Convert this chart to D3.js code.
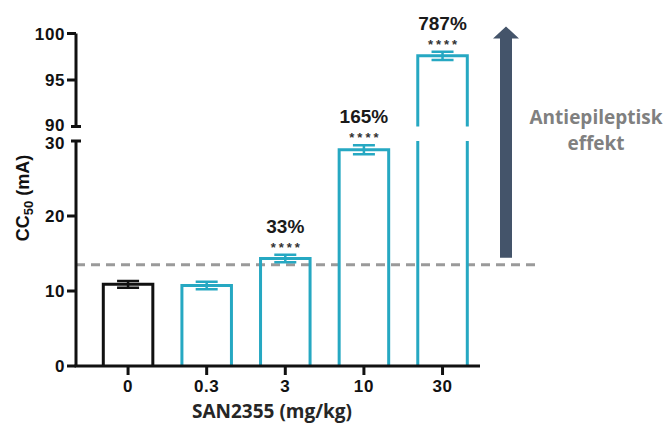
<!DOCTYPE html>
<html lang="en">
<head>
  <meta charset="UTF-8" />
  <title>CC50 SAN2355</title>
  <script src="https://d3js.org/d3.v7.min.js"></script>
  <style>
    body { margin: 0; background: white; }
    svg { display: block; }
    .tick-label { font-family: "Liberation Sans", Arial, sans-serif; font-weight: bold; font-size: 17px; letter-spacing: 0.6px; fill: #111; }
  </style>
</head>
<body>
  <svg width="664" height="424"></svg>

  <script>
    // data
    const doses = ["0", "0.3", "3", "10", "30"];
    const means = [10.9, 10.75, 14.35, 28.85, 97.6];
    const sems = [0.45, 0.5, 0.5, 0.6, 0.45];
    const percentLabels = ["", "", "33%", "165%", "787%"];
    const starLabels = ["", "", "****", "****", "****"];
    const lowerTicks = [0, 10, 20, 30];
    const upperTicks = [90, 95, 100];
    const threshold = 13.5;

    const teal = "#26a8c2";
    const svg = d3.select("svg");

    // broken y axis: two linear segments
    const yLow = d3.scaleLinear().domain([0, 30]).range([366, 141]);
    const yHigh = d3.scaleLinear().domain([90, 100]).range([126.5, 33.5]);
    const y = v => v <= 30 ? yLow(v) : yHigh(v);

    const x = d3.scaleBand().domain(doses).range([103.3, 467.3]).paddingInner(0.37).paddingOuter(0);
    const axisX = 76, axisEnd = 480;

    // dashed threshold line (behind bars)
    svg.append("line")
      .attr("x1", axisX).attr("x2", 536)
      .attr("y1", yLow(threshold)).attr("y2", yLow(threshold))
      .attr("stroke", "#9a9a9a").attr("stroke-width", 3)
      .attr("stroke-dasharray", "9,6");

    // bars
    const bars = svg.append("g").attr("fill", "none").attr("stroke-width", 3);
    doses.forEach((d, i) => {
      const x0 = x(d), x1 = x(d) + x.bandwidth();
      const col = i === 0 ? "#111" : teal;
      const v = means[i];
      let path;
      if (v <= 30) {
        path = `M${x0},${yLow(0)}V${y(v)}H${x1}V${yLow(0)}`;
      } else {
        path = `M${x0},${yLow(0)}V${yLow(30)}M${x1},${yLow(0)}V${yLow(30)}` +
               `M${x0},${yHigh(90)}V${y(v)}H${x1}V${yHigh(90)}`;
      }
      bars.append("path").attr("d", path).attr("stroke", col);

      // error bar (mean +/- sem)
      const cx = x0 + x.bandwidth() / 2;
      const hw = 11;
      const top = y(v + sems[i]), bot = y(v - sems[i]);
      bars.append("path")
        .attr("d", `M${cx - hw},${top}H${cx + hw}M${cx},${top}V${bot}M${cx - hw},${bot}H${cx + hw}`)
        .attr("stroke", col).attr("stroke-width", 2.5);

      if (percentLabels[i]) {
        svg.append("text")
          .attr("x", cx).attr("y", top - 22)
          .attr("text-anchor", "middle")
          .attr("font-family", "Liberation Sans, Arial, sans-serif")
          .attr("font-weight", "bold").attr("font-size", 19)
          .attr("fill", "#1a1a1a")
          .text(percentLabels[i]);
        svg.append("text")
          .attr("x", cx + 1.5).attr("y", top - 3)
          .attr("text-anchor", "middle")
          .attr("font-family", "Liberation Sans, Arial, sans-serif")
          .attr("font-weight", "bold").attr("font-size", 13)
          .attr("letter-spacing", 3)
          .attr("fill", "#333")
          .text(starLabels[i]);
      }
    });

    // y axis, both segments with break caps
    const axes = svg.append("g").attr("stroke", "#111").attr("stroke-width", 3).attr("fill", "none");
    axes.append("path").attr("d", `M${axisX},${yLow(0)}V${yLow(30)}M${axisX - 5},${yLow(30)}H${axisX + 5}`);
    axes.append("path").attr("d", `M${axisX - 5},${yHigh(90)}H${axisX + 5}M${axisX},${yHigh(90)}V${yHigh(100)}`);
    lowerTicks.filter(t => t < 30).forEach(t => {
      axes.append("path").attr("d", `M${axisX - 9},${yLow(t)}H${axisX}`);
    });
    upperTicks.filter(t => t > 90).forEach(t => {
      axes.append("path").attr("d", `M${axisX - 9},${yHigh(t)}H${axisX}`);
    });
    lowerTicks.forEach(t => {
      svg.append("text").attr("class", "tick-label")
        .attr("x", axisX - 11).attr("y", yLow(t) + (t === 30 ? 1.5 : 0)).attr("dy", "0.36em")
        .attr("text-anchor", "end").text(t);
    });
    upperTicks.forEach(t => {
      svg.append("text").attr("class", "tick-label")
        .attr("x", axisX - 11).attr("y", yHigh(t) - (t === 90 ? 1.5 : 0)).attr("dy", "0.36em")
        .attr("text-anchor", "end").text(t);
    });

    // x axis
    axes.append("path").attr("d", `M${axisX - 1.5},${yLow(0)}H${axisEnd}`);
    doses.forEach(d => {
      const cx = x(d) + x.bandwidth() / 2;
      axes.append("path").attr("d", `M${cx},${yLow(0)}V${yLow(0) + 9}`);
      svg.append("text").attr("class", "tick-label")
        .attr("x", cx).attr("y", 392)
        .attr("text-anchor", "middle").text(d);
    });

    // axis titles
    svg.append("text")
      .attr("x", 272).attr("y", 418)
      .attr("text-anchor", "middle")
      .attr("font-family", "'Open Sans', sans-serif")
      .attr("font-weight", "bold").attr("font-size", 19)
      .attr("fill", "#262626")
      .text("SAN2355 (mg/kg)");

    const yTitle = svg.append("text")
      .attr("transform", "translate(29,198) rotate(-90)")
      .attr("text-anchor", "middle")
      .attr("font-family", "Liberation Sans, Arial, sans-serif")
      .attr("font-weight", "bold").attr("font-size", 18)
      .attr("fill", "#111");
    yTitle.append("tspan").text("CC");
    yTitle.append("tspan").attr("font-size", 13).attr("dy", 4).text("50");
    yTitle.append("tspan").attr("dy", -4).text(" (mA)");

    // arrow annotation
    const ax = 506;
    const arrowBottom = yLow(threshold) - 7, arrowTip = yHigh(100) - 7;
    svg.append("path")
      .attr("d", `M${ax - 6},${arrowBottom}V${arrowTip + 12}H${ax - 13}L${ax},${arrowTip}L${ax + 13},${arrowTip + 12}H${ax + 6}V${arrowBottom}Z`)
      .attr("fill", "#44546a");

    const note = svg.append("text")
      .attr("text-anchor", "middle")
      .attr("font-family", "'Open Sans', sans-serif")
      .attr("font-weight", "bold").attr("font-size", 19)
      .attr("fill", "#808080");
    note.append("tspan").attr("x", 596).attr("y", 124).text("Antiepileptisk");
    note.append("tspan").attr("x", 596).attr("y", 150).text("effekt");
  </script>
</body>
</html>
